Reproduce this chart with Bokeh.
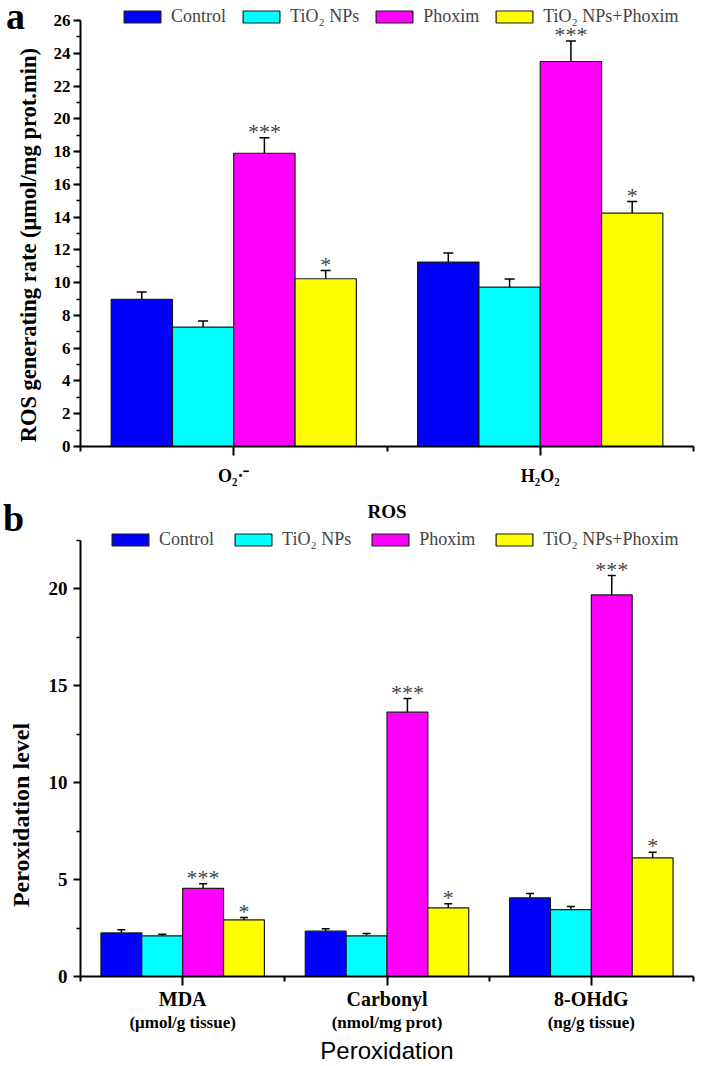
from bokeh.plotting import figure
from bokeh.models import (ColumnDataSource, Range1d, FixedTicker, Whisker, TeeHead,
                          Legend, LegendItem, LinearAxis, Div)
from bokeh.layouts import column
from bokeh.embed import file_html
from bokeh.resources import INLINE
from bokeh.core.properties import value

# ---------------- data ----------------
series = ["Control", "TiO\u2082 NPs", "Phoxim", "TiO\u2082 NPs+Phoxim"]
colors = ["#0000FF", "#00FFFF", "#FF00FF", "#FFFF00"]

ros_groups = ["O\u2082\u00b7\u207b", "H\u2082O\u2082"]
ros_control = [8.98, 11.26]
ros_tio2 = [7.29, 9.73]
ros_phoxim = [17.9, 23.5]
ros_combo = [10.24, 14.25]
ros_err_control = [0.45, 0.55]
ros_err_tio2 = [0.37, 0.50]
ros_err_phoxim = [0.95, 1.25]
ros_err_combo = [0.50, 0.70]
ros_sig_phoxim = ["***", "***"]
ros_sig_combo = ["*", "*"]

per_groups = ["MDA", "Carbonyl", "8-OHdG"]
per_units = ["(\u03bcmol/g tissue)", "(nmol/mg prot)", "(ng/g tissue)"]
per_control = [2.25, 2.34, 4.06]
per_tio2 = [2.10, 2.10, 3.45]
per_phoxim = [4.55, 13.64, 19.69]
per_combo = [2.92, 3.54, 6.12]
per_err_control = [0.16, 0.12, 0.22]
per_err_tio2 = [0.08, 0.12, 0.16]
per_err_phoxim = [0.24, 0.70, 1.00]
per_err_combo = [0.12, 0.22, 0.29]
per_sig_phoxim = ["***", "***", "***"]
per_sig_combo = ["*", "*", "*"]

SERIF = "Liberation Serif"
SANS = "Liberation Sans"
NBSP = "\u00a0"
offsets = [-0.3, -0.1, 0.1, 0.3]
BAR_W = 0.2


def make_panel(groups, vals, errs, sigs, ymax, headroom, major, minor, height,
               border, legend_xy, legend_spacing, tick_size, star_size, tee):
    n = len(groups)
    p = figure(width=710, height=height, output_backend="svg", toolbar_location=None,
               x_range=Range1d(0.5, n + 0.5), y_range=Range1d(0, ymax + headroom),
               min_border_left=border[0], min_border_right=border[1],
               min_border_top=border[2], min_border_bottom=border[3])
    p.outline_line_color = None
    p.xgrid.visible = False
    p.ygrid.visible = False
    p.background_fill_color = "white"
    p.border_fill_color = "white"

    items = []
    for k in range(4):
        xs = [i + 1 + offsets[k] for i in range(n)]
        tops = vals[k]
        uppers = [t + e for t, e in zip(tops, errs[k])]
        src = ColumnDataSource(dict(x=xs, top=tops, upper=uppers))
        r = p.vbar(x="x", top="top", width=BAR_W, source=src, fill_color=colors[k],
                   line_color="#1a1a1a", line_width=1.2)
        items.append(LegendItem(label=series[k], renderers=[r]))
        w = Whisker(source=src, base="x", upper="upper", lower="top", dimension="height",
                    line_color="black", line_width=1.5,
                    upper_head=TeeHead(size=tee, line_color="black", line_width=1.5),
                    lower_head=None)
        p.add_layout(w)
        if sigs[k] is not None:
            ssrc = ColumnDataSource(dict(x=xs, y=uppers, t=sigs[k]))
            p.text(x="x", y="y", text="t", source=ssrc, text_align="center",
                   text_baseline="bottom", y_offset=6, text_color="#444444",
                   text_font=value(SERIF), text_font_size=star_size)

    legend = Legend(items=items, orientation="horizontal", location=legend_xy,
                    padding=0, margin=0, spacing=legend_spacing, glyph_width=46,
                    glyph_height=15, label_standoff=6, label_text_font=SERIF,
                    label_text_font_size="18px", border_line_color=None,
                    background_fill_alpha=0, label_height=15)
    p.add_layout(legend)

    ya = p.yaxis[0]
    ya.bounds = (0, ymax)
    ya.ticker = FixedTicker(ticks=major, minor_ticks=minor)
    ya.axis_line_width = 2
    ya.major_tick_line_width = 2
    ya.minor_tick_line_width = 1.5
    ya.major_tick_in = 0
    ya.major_tick_out = 7
    ya.minor_tick_in = 0
    ya.minor_tick_out = 4
    ya.major_label_text_font = SERIF
    ya.major_label_text_font_style = "bold"
    ya.major_label_text_font_size = tick_size
    ya.major_label_text_color = "black"
    ya.axis_label_text_font = SERIF
    ya.axis_label_text_font_style = "bold"
    ya.axis_label_text_color = "black"

    xa = p.xaxis[0]
    centers = [i + 1 for i in range(n)]
    xa.ticker = FixedTicker(ticks=centers, minor_ticks=[i + 0.5 for i in range(n + 1)])
    xa.major_label_overrides = {c: g for c, g in zip(centers, groups)}
    xa.axis_line_width = 2
    xa.major_tick_line_width = 2
    xa.minor_tick_line_width = 2
    xa.major_tick_in = 0
    xa.major_tick_out = 9
    xa.minor_tick_in = 0
    xa.minor_tick_out = 5
    xa.major_label_text_font = SERIF
    xa.major_label_text_font_style = "bold"
    xa.major_label_text_color = "black"
    xa.axis_label_text_font = SERIF
    xa.axis_label_text_font_style = "bold"
    xa.axis_label_text_color = "black"
    return p


# ---------------- panel a ----------------
pa = make_panel(ros_groups,
                [ros_control, ros_tio2, ros_phoxim, ros_combo],
                [ros_err_control, ros_err_tio2, ros_err_phoxim, ros_err_combo],
                [None, None, ros_sig_phoxim, ros_sig_combo],
                26, 0.98, list(range(0, 27, 2)), list(range(0, 27)), 525,
                (78, 17, 4, 79), (39, 419), 12, "17px", "22px", 10)
ya = pa.yaxis[0]
ya.axis_label = "ROS generating rate (\u03bcmol/mg prot.min)" + NBSP * 7
ya.axis_label_text_font_size = "22.5px"
ya.major_label_standoff = 3
ya.axis_label_standoff = 10
xa = pa.xaxis[0]
xa.axis_label = "ROS"
xa.axis_label_text_font_size = "19px"
xa.major_label_text_font_size = "18px"
xa.major_label_standoff = 10
xa.axis_label_standoff = 12

# ---------------- panel b ----------------
pb = make_panel(per_groups,
                [per_control, per_tio2, per_phoxim, per_combo],
                [per_err_control, per_err_tio2, per_err_phoxim, per_err_combo],
                [None, None, per_sig_phoxim, per_sig_combo],
                22.5, 0.67, [0, 5, 10, 15, 20], [2.5, 7.5, 12.5, 17.5, 22.5], 541,
                (80, 6, 2, 90), (27, 426), 16, "19px", "22px", 8)
ya = pb.yaxis[0]
ya.axis_label = "Peroxidation level" + NBSP * 21
ya.axis_label_text_font_size = "24px"
ya.major_label_standoff = 6
ya.axis_label_standoff = 12
xa = pb.xaxis[0]
xa.major_label_text_font_size = "20px"
xa.major_label_standoff = 2
centers_b = [i + 1 for i in range(len(per_groups))]
ua = LinearAxis(ticker=FixedTicker(ticks=centers_b),
                major_label_overrides={c: u for c, u in zip(centers_b, per_units)},
                axis_line_color=None, major_tick_line_color=None, minor_tick_line_color=None,
                major_tick_in=0, major_tick_out=0, minor_tick_in=0, minor_tick_out=0,
                major_label_standoff=0, major_label_text_font=SERIF,
                major_label_text_font_style="bold", major_label_text_font_size="17px",
                major_label_text_color="black",
                axis_label="Peroxidation", axis_label_text_font=SANS,
                axis_label_text_font_style="normal", axis_label_text_font_size="24px",
                axis_label_text_color="black", axis_label_standoff=2)
pb.add_layout(ua, "below")

# ---------------- panel letters ----------------
LETTER = ('<span style="font-family:\'Liberation Serif\';font-weight:bold;'
          'font-size:38px;line-height:38px;color:black">{}</span>')
div_a = Div(text=LETTER.format("a"), width=30, height=40,
            styles={"position": "absolute", "left": "1px", "top": "-8px", "z-index": "10"})
div_b = Div(text=LETTER.format("b"), width=30, height=40,
            styles={"position": "absolute", "left": "-2px", "top": "494px", "z-index": "10"})

layout = column(pa, pb, div_a, div_b, spacing=0)
open("out.html", "w").write(file_html(layout, INLINE))
